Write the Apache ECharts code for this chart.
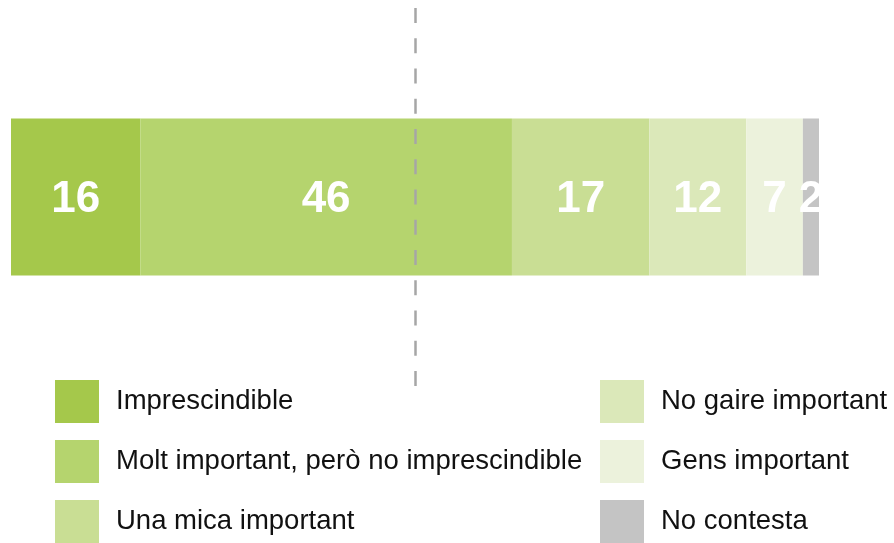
<!DOCTYPE html>
<html>
<head>
<meta charset="utf-8">
<script src="https://cdn.jsdelivr.net/npm/echarts@6/dist/echarts.min.js"></script>
<style>
  html, body { margin: 0; padding: 0; background: #fff; }
  #main { width: 894px; height: 543px; }
</style>
</head>
<body>
<div id="main"></div>
<script>
// categories (legend names) and values, percent
var names = ['Imprescindible', 'Molt important, però no imprescindible', 'Una mica important',
             'No gaire important', 'Gens important', 'No contesta'];
var values = [16, 46, 17, 12, 7, 2];
var colors = ['#a5c84b', '#b5d46e', '#c9de94', '#dbe8b9', '#ecf2dc', '#c4c4c4'];
var refLine = 50;

var myChart = echarts.init(document.getElementById('main'));

var series = names.map(function (n, i) {
    var s = {
        name: n,
        type: 'bar',
        stack: 'total',
        barWidth: 157,
        data: [values[i]],
        itemStyle: { color: colors[i] },
        label: {
            show: true,
            position: 'inside',
            offset: [0, 3],
            color: '#fff',
            fontSize: 44,
            fontWeight: 'bold',
            fontFamily: 'Liberation Sans'
        }
    };
    if (i === names.length - 1) {
        s.markLine = {
            silent: true,
            symbol: 'none',
            z: 10,
            label: { show: false },
            lineStyle: { color: '#a6a6a6', width: 2.5, type: [15, 15.25] },
            data: [{ xAxis: refLine }]
        };
    }
    return s;
});

var legendBase = {
    orient: 'vertical',
    top: 380,
    height: 200,
    padding: 0,
    itemWidth: 44,
    itemHeight: 43,
    itemGap: 17,
    icon: 'rect',
    selectedMode: false,
    textStyle: {
        fontFamily: 'Liberation Sans',
        fontSize: 27.5,
        color: '#111',
        padding: [10, 0, 0, 12]
    }
};

var option = {
    animation: false,
    grid: { left: 11, width: 808, top: 8, height: 378 },
    xAxis: { type: 'value', min: 0, max: 100, show: false },
    yAxis: { type: 'category', data: [''], show: false },
    legend: [
        Object.assign({}, legendBase, { left: 55, data: names.slice(0, 3) }),
        Object.assign({}, legendBase, { left: 600, data: names.slice(3) })
    ],
    series: series
};

myChart.setOption(option);
</script>
</body>
</html>
